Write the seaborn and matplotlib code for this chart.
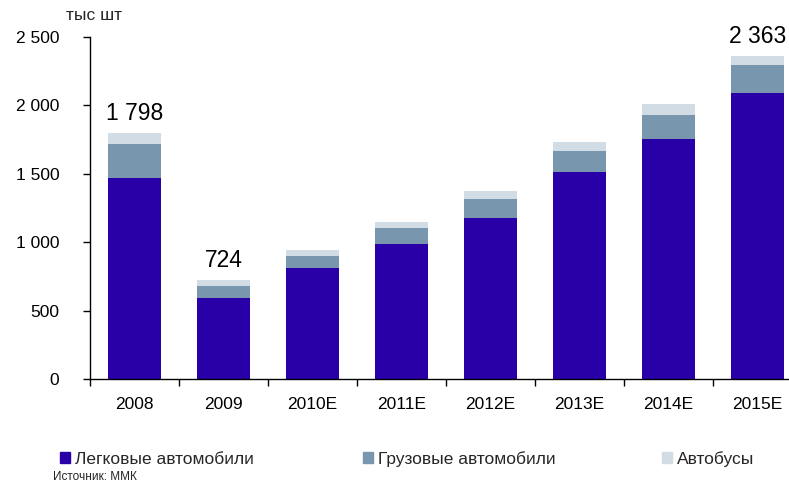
import matplotlib
matplotlib.use("Agg")
import matplotlib.pyplot as plt
import matplotlib.patches as mpatches
import seaborn as sns
import numpy as np
import pandas as pd

# данные (тыс шт)
years = ["2008", "2009", "2010E", "2011E", "2012E", "2013E", "2014E", "2015E"]
passenger = [1470, 592, 811, 987, 1177, 1513, 1754, 2091]
trucks = [248, 90, 88, 117, 139, 154, 176, 204]
buses = [80, 42, 44, 44, 58, 65, 80, 68]
labeled_years = ["2008", "2009", "2015E"]

series_names = ["Легковые автомобили", "Грузовые автомобили", "Автобусы"]
colors = ["#2900A8", "#7897AF", "#D1DCE5"]
y_ticks = [0, 500, 1000, 1500, 2000, 2500]

sns.set_style("ticks")
plt.rcParams["font.family"] = ["Liberation Sans", "DejaVu Sans"]

df = pd.DataFrame({"year": years, "p": passenger, "t": trucks, "b": buses})
df["pt"] = df["p"] + df["t"]
df["total"] = df["pt"] + df["b"]

fig = plt.figure(figsize=(7.89, 4.84), dpi=100)
W, H = 789, 484
x0, x1 = 90, 802
y0, y1 = 379, 37
ax = fig.add_axes([x0 / W, 1 - y0 / H, (x1 - x0) / W, (y0 - y1) / H])

# стек: рисуем сверху вниз
for col, c in zip(["total", "pt", "p"], colors[::-1]):
    sns.barplot(data=df, x="year", y=col, order=years, color=c, width=0.6,
                saturation=1, ax=ax, edgecolor="none", linewidth=0)

ax.set_ylim(0, 2500)
ax.set_xlim(-0.5, len(years) - 0.5)
ax.set_xlabel("")
ax.set_ylabel("")

ax.set_yticks(y_ticks)
ax.set_yticklabels([f"{v:,}".replace(",", " ") for v in y_ticks])
ax.tick_params(axis="y", length=5, width=1, direction="out", pad=17,
               labelsize=12.5, color="black", labelcolor="black")

# основные деления между категориями, подписи — по центру
ax.set_xticks(np.arange(len(years) + 1) - 0.5)
ax.set_xticklabels([])
ax.set_xticks(np.arange(len(years)), minor=True)
ax.set_xticklabels(years, minor=True)
ax.tick_params(axis="x", which="major", length=5, width=1, direction="out", color="black")
ax.tick_params(axis="x", which="minor", length=0, pad=13, labelsize=12.5, labelcolor="black")

sns.despine(ax=ax)
for s in ["left", "bottom"]:
    ax.spines[s].set_color("black")
    ax.spines[s].set_linewidth(1)

# подписи итогов
for i, (yr, tot) in enumerate(zip(df["year"], df["total"])):
    if yr in labeled_years:
        ax.annotate(f"{tot:,}".replace(",", " "), xy=(i, tot), xytext=(0, 14),
                    textcoords="offset points", ha="center", va="center",
                    fontsize=16.5, color="black")

fig.text(94.5 / W, 1 - 20.5 / H, "тыс шт", ha="center", va="baseline", fontsize=12.5)

# легенда
legend_x = [60, 363, 662]
for name, c, lx in zip(series_names, colors, legend_x):
    h = mpatches.Patch(color=c)
    fig.legend(handles=[h], labels=[name], loc="center left",
               bbox_to_anchor=(lx / W, 1 - 459 / H), frameon=False,
               borderaxespad=0, borderpad=0, handlelength=0.6, handleheight=0.6,
               handletextpad=0.25, fontsize=12.5)

fig.text(53 / W, 1 - 477 / H, "Источник: ММК", ha="left", va="center", fontsize=8.5)

fig.savefig("out.png", dpi=100)
plt.close(fig)
